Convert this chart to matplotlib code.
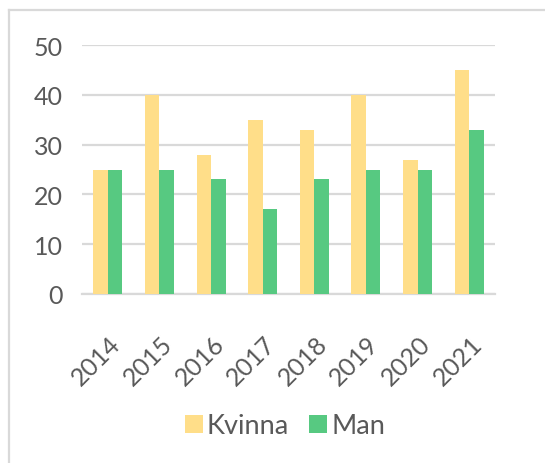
import numpy as np
import matplotlib
matplotlib.use("Agg")
import matplotlib.pyplot as plt
import matplotlib.transforms as mtransforms
from matplotlib.lines import Line2D

years = ["2014", "2015", "2016", "2017", "2018", "2019", "2020", "2021"]
kvinna = [25, 40, 28, 35, 33, 40, 27, 45]
man = [25, 25, 23, 17, 23, 25, 25, 33]

yellow = "#FFDE89"
green = "#57C981"
text_col = "#595959"
grid_col = "#D9D9D9"

plt.rcParams["font.family"] = ["Lato", "DejaVu Sans"]

fig = plt.figure(figsize=(5.45, 4.64), dpi=100)
ax = fig.add_axes([82 / 545, 1 - 295 / 464, 413 / 545, 249 / 464])

x = np.arange(len(years))
w = 0.28
ax.bar(x - w / 2, kvinna, w, color=yellow, label="Kvinna", zorder=3)
ax.bar(x + w / 2, man, w, color=green, label="Man", zorder=3)

ax.set_xlim(-0.5, len(years) - 0.5)
ax.set_ylim(0, 50)
ax.set_yticks([0, 10, 20, 30, 40, 50])
ax.yaxis.grid(True, color=grid_col, linewidth=1.6, zorder=0)
ax.set_axisbelow(True)
for s in ["top", "right", "left"]:
    ax.spines[s].set_visible(False)
ax.spines["bottom"].set_color(grid_col)
ax.spines["bottom"].set_linewidth(1.6)

ax.set_xticks(x)
ax.set_xticklabels(years, rotation=45, ha="right", va="top", rotation_mode="anchor")
ax.tick_params(axis="both", length=0, labelsize=18, colors=text_col)
ax.tick_params(axis="y", pad=14)
ax.tick_params(axis="x", pad=27)
# nudge rotated labels a bit to the right, like the original
shift = mtransforms.ScaledTranslation(1 / 100, 0, fig.dpi_scale_trans)
for lbl in ax.get_xticklabels():
    lbl.set_transform(lbl.get_transform() + shift)

leg = fig.legend(loc="center", bbox_to_anchor=(285 / 545, 1 - 427 / 464), ncol=2, frameon=False,
                 fontsize=19.5, handlelength=0.65, handleheight=0.65, handletextpad=0.15,
                 columnspacing=0.75, labelcolor=text_col)

# chart border
fig.add_artist(Line2D([9 / 545, 9 / 545], [0, 1 - 11 / 464], transform=fig.transFigure,
                      color=grid_col, linewidth=1.6))
fig.add_artist(Line2D([9 / 545, 1], [1 - 11 / 464, 1 - 11 / 464], transform=fig.transFigure,
                      color=grid_col, linewidth=1.6))

fig.savefig("out.png", dpi=100)
